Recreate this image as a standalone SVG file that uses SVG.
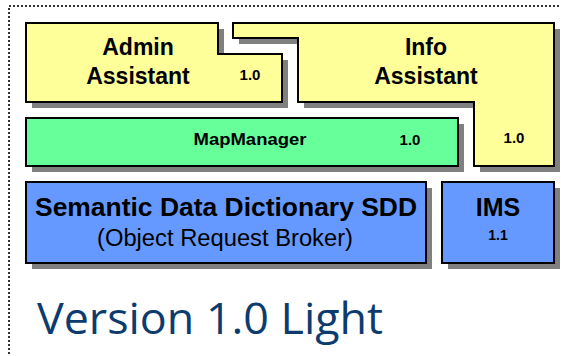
<svg xmlns="http://www.w3.org/2000/svg" width="561" height="356" viewBox="0 0 561 356">
  <style>
    .shadow { fill: #808080; stroke: none; }
    .box { stroke: #000; stroke-width: 2; stroke-linejoin: miter; }
    .yellow { fill: #FFFF99; }
    .green { fill: #66FF99; }
    .blue { fill: #6699FF; }
    .t { font-family: "Liberation Sans", Arial, sans-serif; fill: #000; text-anchor: middle; }
    .b { font-weight: bold; }
    .frame { fill: none; stroke: #333; stroke-width: 2; stroke-dasharray: 2 2; }
    .title { font-family: "Open Sans", "Noto Sans", "DejaVu Sans", sans-serif; fill: #0D3B6E; font-size: 44px; }
  </style>
  <rect class="frame" x="9" y="6" width="570" height="370"/>

  <g id="admin-assistant">
    <path class="shadow" d="M32,29 H224 V60 H288 V108 H32 Z"/>
    <path class="box yellow" d="M26,23 H218 V54 H282 V102 H26 Z"/>
    <text class="t b" x="138" y="55" font-size="23">Admin</text>
    <text class="t b" x="138" y="84" font-size="23">Assistant</text>
    <text class="t b" x="250" y="80" font-size="15">1.0</text>
  </g>

  <g id="info-assistant">
    <path class="shadow" d="M239,29 H560 V172 H480 V108 H304 V44 H239 Z"/>
    <path class="box yellow" d="M233,23 H554 V166 H474 V102 H298 V38 H233 Z"/>
    <text class="t b" x="426" y="55" font-size="23">Info</text>
    <text class="t b" x="426" y="84" font-size="23">Assistant</text>
    <text class="t b" x="514" y="143" font-size="15">1.0</text>
  </g>

  <g id="mapmanager">
    <rect class="shadow" x="32" y="124" width="432" height="48"/>
    <rect class="box green" x="26" y="118" width="432" height="48"/>
    <text class="t b" x="250" y="145" font-size="17" textLength="113" lengthAdjust="spacingAndGlyphs">MapManager</text>
    <text class="t b" x="410" y="145" font-size="15">1.0</text>
  </g>

  <g id="sdd">
    <rect class="shadow" x="32" y="188" width="400" height="81"/>
    <rect class="box blue" x="26" y="182" width="400" height="81"/>
    <text class="t b" x="226" y="216" font-size="25" textLength="382" lengthAdjust="spacingAndGlyphs">Semantic Data Dictionary SDD</text>
    <text class="t" x="225" y="246" font-size="23" textLength="256" lengthAdjust="spacingAndGlyphs">(Object Request Broker)</text>
  </g>

  <g id="ims">
    <rect class="shadow" x="448" y="188" width="112" height="81"/>
    <rect class="box blue" x="442" y="182" width="112" height="81"/>
    <text class="t b" x="498" y="216" font-size="25">IMS</text>
    <text class="t b" x="498" y="240" font-size="14">1.1</text>
  </g>

  <text class="title" x="37" y="334" textLength="346" lengthAdjust="spacingAndGlyphs">Version 1.0 Light</text>
</svg>
